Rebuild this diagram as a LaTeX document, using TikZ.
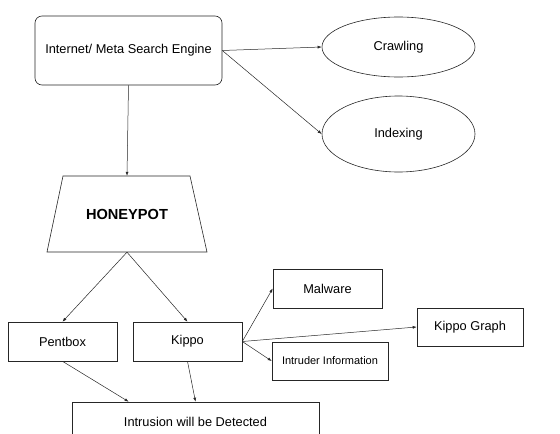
\documentclass[tikz,border=0pt]{standalone}
\usepackage{fontspec}
\setmainfont{Liberation Sans}
\usetikzlibrary{calc,shapes.geometric,arrows.meta}

\tikzset{
  blk/.style={draw=black!85, line width=0.6pt, inner sep=0pt, font=\fontsize{12.8}{15}\selectfont},
  conn/.style={-{Latex[length=4pt,width=3pt]}, draw=black!85, line width=0.5pt},
}

\begin{document}
\begin{tikzpicture}[x=1pt,y=-1pt]
\useasboundingbox (0,0) rectangle (560,434);
\clip (0,0) rectangle (560,434);
% top row
\node[blk, rounded corners=7pt, minimum width=187pt, minimum height=69pt] (engine) at (128.5,50.5) {Internet/ Meta Search Engine};
\node[blk, ellipse, minimum width=153pt, minimum height=60pt] (crawling) at (398.5,47) {Crawling};
\node[blk, ellipse, minimum width=153pt, minimum height=76pt] (indexing) at (398.5,134) {Indexing};
% honeypot
\draw[draw=black!85, line width=0.6pt] (63,176) -- (190,176) -- (207,252) -- (47,252) -- cycle;
\node[minimum width=127pt, minimum height=76pt, inner sep=0pt, font=\fontsize{14.6}{17}\selectfont\bfseries] (honeypot) at (127,214) {HONEYPOT};
% tools
\node[blk, minimum width=109pt, minimum height=39pt] (pentbox) at (62.5,341.5) {Pentbox};
\node[blk, minimum width=109pt, minimum height=39pt] (kippo) at (187.5,341.5) {Kippo};
\node[blk, minimum width=109pt, minimum height=39pt] (malware) at (327.5,288.5) {Malware};
\node[blk, minimum width=106pt, minimum height=38pt] (kippograph) at (470,327) {Kippo Graph};
\node[blk, minimum width=116pt, minimum height=38pt, font=\fontsize{11}{13}\selectfont] (intruder) at (330,361) {Intruder Information};
\node[blk, minimum width=247pt, minimum height=40pt] (intrusion) at (195.5,422) {Intrusion will be Detected};
% connectors
\draw[conn] (engine.east) -- (crawling.west);
\draw[conn] (engine.east) -- (indexing.west);
\draw[conn] (engine.south) -- (honeypot.north);
\draw[conn] (honeypot.south) -- (pentbox.north);
\draw[conn] (honeypot.south) -- (kippo.north);
\draw[conn] (kippo.east) -- (malware.west);
\draw[conn] (kippo.east) -- (kippograph.west);
\draw[conn] (kippo.east) -- (intruder.west);
\draw[conn] (pentbox.south) -- ($(intrusion.north west)!0.23!(intrusion.north east)$);
\draw[conn] (kippo.south) -- (intrusion.north);
\end{tikzpicture}
\end{document}
